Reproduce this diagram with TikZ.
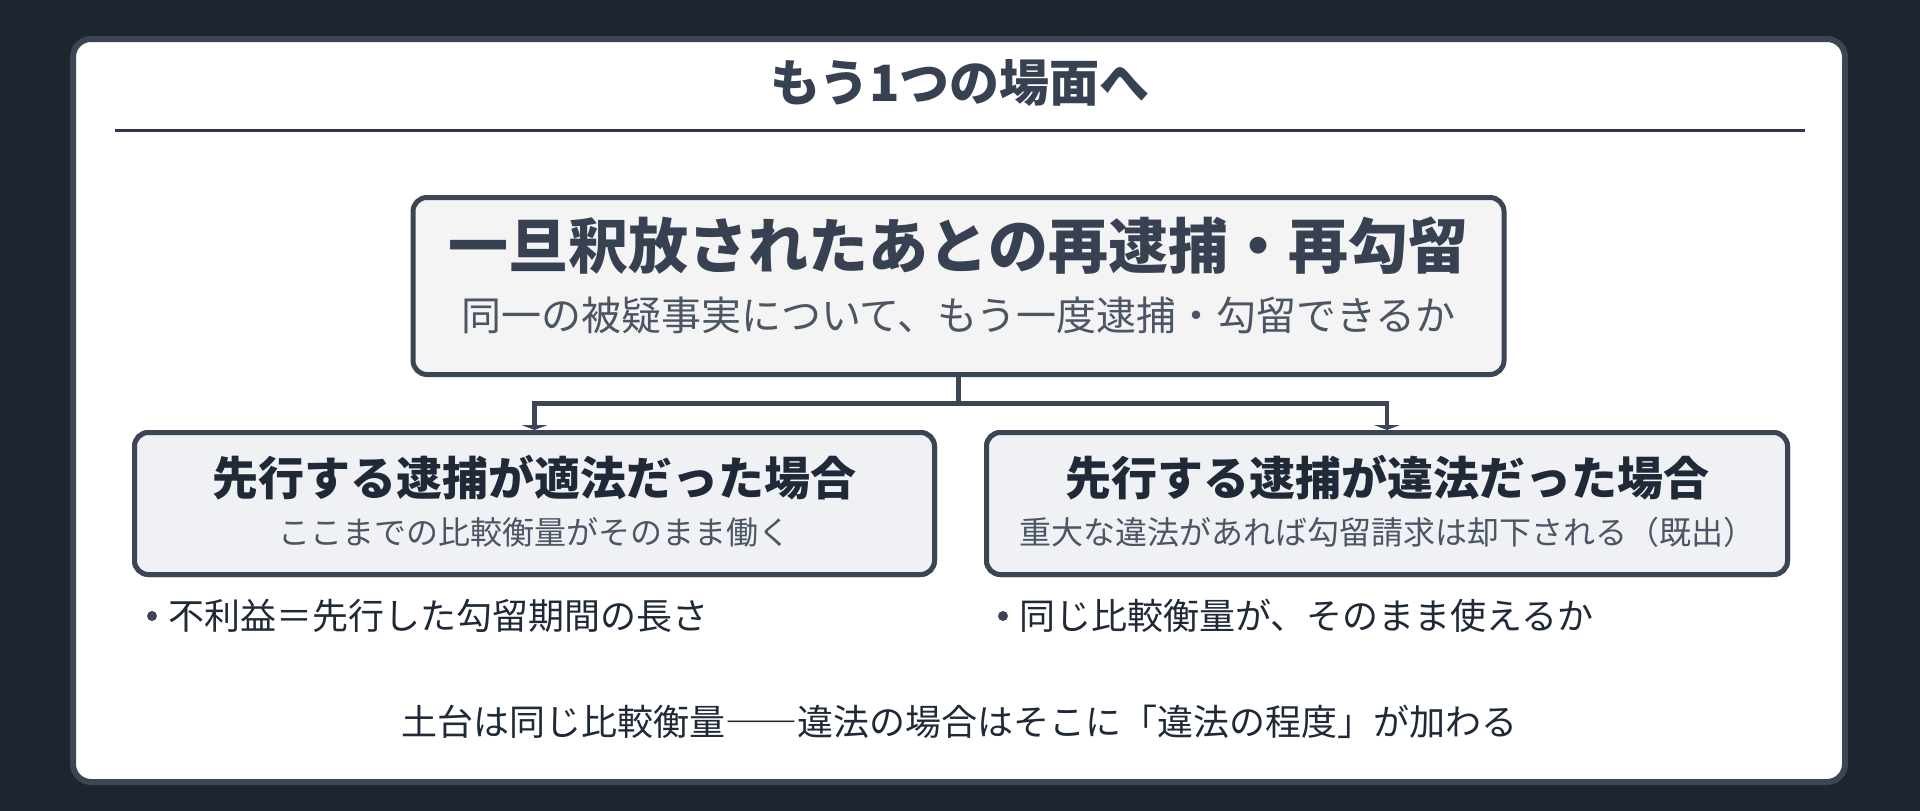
\documentclass[tikz,border=0pt]{standalone}
\usepackage{fontspec}
\setmainfont{Noto Sans CJK JP}
\usetikzlibrary{arrows.meta}
\definecolor{bgdark}{HTML}{1E252F}
\definecolor{cardline}{HTML}{3B4554}
\definecolor{rulecol}{HTML}{2F3744}
\definecolor{topfill}{HTML}{F4F4F5}
\definecolor{subfill}{HTML}{EFF1F5}
\definecolor{headcol}{HTML}{374151}
\definecolor{subcol}{HTML}{4B5563}
\definecolor{darkcol}{HTML}{1F2937}
\tikzset{
  box/.style={draw=cardline, line width=5pt, rounded corners=14pt, inner sep=0pt},
  topbox/.style={box, fill=topfill},
  subbox/.style={box, fill=subfill},
  txt/.style={inner sep=0pt, outer sep=0pt},
  conn/.style={draw=cardline, line width=4.5pt, -{Triangle[length=5pt,width=26pt]}},
  dotmark/.style={circle, fill=cardline, inner sep=0pt, minimum size=10pt},
}
\begin{document}
\begin{tikzpicture}[x=1pt,y=-1pt]
\useasboundingbox (0,0) rectangle (1920,811);
\fill[bgdark] (0,0) rectangle (1920,811);
% card
\draw[draw=cardline, line width=6pt, fill=white, rounded corners=18pt] (73,39) rectangle (1845,782);
% title
\node[txt, text=headcol, font=\fontsize{50}{58}\selectfont\bfseries] (title) at (960,83) {もう1つの場面へ};
\draw[rulecol, line width=3pt] (115,130) -- (1805,130);
% boxes
\node[topbox, minimum width=1091pt, minimum height=177pt] (top) at (958.5,286) {};
\coordinate (j) at (958.5,403.5);
\node[subbox, minimum width=800pt, minimum height=142pt] (L) at (534.5,503.5) {};
\node[subbox, minimum width=801pt, minimum height=142pt] (R) at (1387,503.5) {};
% connectors
\draw[conn] (j) -| (L.north);
\draw[conn] (j) -| (R.north);
\draw[draw=cardline, line width=4.5pt] (top.south) -- (j);
% redraw lower boxes on top so the tips are tucked under the borders
\node[subbox, minimum width=800pt, minimum height=142pt] (L2) at (534.5,503.5) {};
\node[subbox, minimum width=801pt, minimum height=142pt] (R2) at (1387,503.5) {};
% top box texts
\node[txt, text=headcol, font=\fontsize{60}{70}\selectfont\bfseries] (toptitle) at (958.5,246) {一旦釈放されたあとの再逮捕・再勾留};
\node[txt, text=subcol, font=\fontsize{40}{48}\selectfont] (topsub) at (958.5,315) {同一の被疑事実について、もう一度逮捕・勾留できるか};
% left box texts
\node[txt, text=darkcol, font=\fontsize{46}{54}\selectfont\bfseries] (Ltitle) at (534.5,478) {先行する逮捕が適法だった場合};
\node[txt, text=subcol, font=\fontsize{32}{38}\selectfont] (Lsub) at (534.5,532) {ここまでの比較衡量がそのまま働く};
% right box texts
\node[txt, text=darkcol, font=\fontsize{46}{54}\selectfont\bfseries] (Rtitle) at (1387,478) {先行する逮捕が違法だった場合};
\node[txt, text=subcol, font=\fontsize{32}{38}\selectfont] (Rsub) at (1387,532) {重大な違法があれば勾留請求は却下される（既出）};
% bullets
\node[dotmark] (d1) at (152,616) {};
\node[txt, anchor=west, text=darkcol, font=\fontsize{36}{42}\selectfont] (b1) at (168,616) {不利益＝先行した勾留期間の長さ};
\node[dotmark] (d2) at (1003,616) {};
\node[txt, anchor=west, text=darkcol, font=\fontsize{36}{42}\selectfont] (b2) at (1019,616) {同じ比較衡量が、そのまま使えるか};
% bottom line
\node[txt, text=darkcol, font=\fontsize{36}{44}\selectfont] (foot) at (959,722) {土台は同じ比較衡量――違法の場合はそこに「違法の程度」が加わる};
\end{tikzpicture}
\end{document}
